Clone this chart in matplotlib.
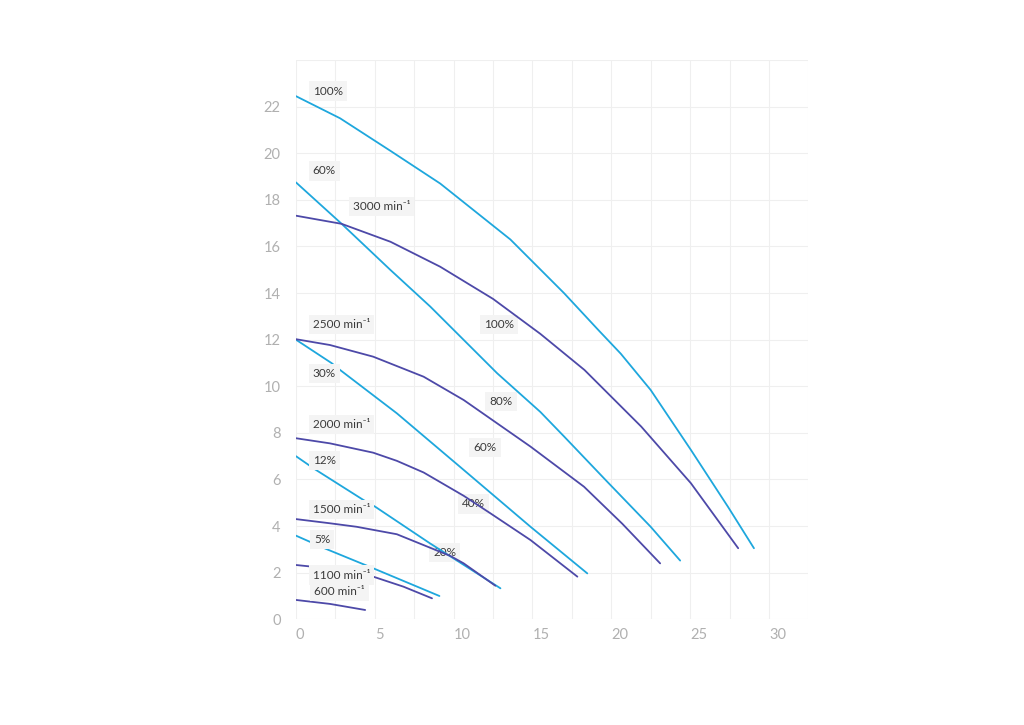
import matplotlib
matplotlib.use("Agg")
import matplotlib.pyplot as plt
from matplotlib.ticker import MultipleLocator

plt.rcParams['font.family'] = ['Lato', 'DejaVu Sans']

# ---- speed curves (dark) ----
sp3000_x = [0, 2.9, 6.0, 9.15, 12.5, 15.5, 18.3, 21.9, 25.05, 28.05]
sp3000_y = [17.32, 16.97, 16.2, 15.13, 13.75, 12.25, 10.7, 8.27, 5.84, 3.05]
sp2500_x = [0, 2.16, 4.9, 8.1, 10.64, 14.88, 18.27, 20.7, 23.1]
sp2500_y = [12.02, 11.77, 11.27, 10.41, 9.41, 7.41, 5.69, 4.1, 2.4]
sp2000_x = [0, 2.16, 4.9, 6.4, 8.1, 10.64, 12.33, 14.88, 17.85]
sp2000_y = [7.77, 7.55, 7.15, 6.8, 6.3, 5.3, 4.55, 3.4, 1.83]
sp1500_x = [0, 2.16, 3.85, 6.4, 9.79, 10.64, 12.65]
sp1500_y = [4.3, 4.12, 3.97, 3.65, 2.72, 2.4, 1.44]
sp1100_x = [0, 2.6, 4.9, 6.82, 8.63]
sp1100_y = [2.33, 2.15, 1.83, 1.4, 0.9]
sp600_x = [0, 2.16, 4.39]
sp600_y = [0.83, 0.66, 0.4]

# ---- percentage curves (light) ----
p100_x = [0, 2.8, 6.0, 9.15, 13.6, 17.0, 19.2, 20.6, 22.5, 25.05, 27.4, 29.05]
p100_y = [22.45, 21.5, 20.1, 18.7, 16.3, 14.0, 12.4, 11.4, 9.84, 7.27, 4.83, 3.05]
p60_x = [0, 2.9, 5.98, 8.52, 12.76, 15.5, 17.0, 19.75, 22.5, 24.37]
p60_y = [18.75, 16.97, 15.0, 13.42, 10.56, 8.9, 7.85, 5.9, 3.97, 2.52]
p30_x = [0, 2.27, 2.8, 6.4, 10.64, 14.88, 18.48]
p30_y = [12.0, 10.99, 10.7, 8.84, 6.41, 3.97, 1.97]
p12_x = [0, 1.2, 4.28, 5.03, 8.5, 12.97]
p12_y = [7.0, 6.44, 5.12, 4.83, 3.26, 1.33]
p5_x = [0, 1.91, 4.9, 9.1]
p5_y = [3.59, 3.02, 2.19, 1.0]

speed_curves = [(sp3000_x, sp3000_y), (sp2500_x, sp2500_y), (sp2000_x, sp2000_y),
                (sp1500_x, sp1500_y), (sp1100_x, sp1100_y), (sp600_x, sp600_y)]
pct_curves = [(p100_x, p100_y), (p60_x, p60_y), (p30_x, p30_y),
              (p12_x, p12_y), (p5_x, p5_y)]

# labels along the left (text, x, y)
left_labels = ["100%", "60%", "3000 min⁻¹", "2500 min⁻¹", "30%", "2000 min⁻¹",
               "12%", "1500 min⁻¹", "5%", "1100 min⁻¹", "600 min⁻¹"]
left_x = [1.06, 1.06, 3.6, 1.06, 1.06, 1.06, 1.06, 1.06, 1.15, 1.06, 1.15]
left_y = [22.67, 19.24, 17.71, 12.66, 10.56, 8.37, 6.81, 4.72, 3.43, 1.9, 1.21]
# labels in the middle
mid_labels = ["100%", "80%", "60%", "40%", "20%"]
mid_x = [12.89, 13.0, 12.0, 11.26, 9.43]
mid_y = [12.66, 9.34, 7.38, 4.95, 2.86]

x_ticks = [0, 5, 10, 15, 20, 25, 30]
y_ticks = [0, 2, 4, 6, 8, 10, 12, 14, 16, 18, 20, 22]

light = '#1ea7dd'
dark = '#4d49a8'
box = dict(boxstyle='square,pad=0.35', fc='#f4f4f4', ec='none')

fig = plt.figure(figsize=(10.24, 7.25), dpi=100)
ax = fig.add_axes([0.289, 0.1458, 0.5004, 0.7714])

for x, y in pct_curves:
    ax.plot(x, y, color=light, lw=1.3, zorder=3, solid_capstyle='round',
            solid_joinstyle='round')
for x, y in speed_curves:
    ax.plot(x, y, color=dark, lw=1.3, zorder=3, solid_capstyle='round',
            solid_joinstyle='round')

for t, x, y in zip(left_labels, left_x, left_y):
    ax.text(x, y, t, ha='left', va='center', fontsize=8.5, color='#3a3a3a',
            bbox=box, zorder=5)
for t, x, y in zip(mid_labels, mid_x, mid_y):
    ax.text(x, y, t, ha='center', va='center', fontsize=8.5, color='#3a3a3a',
            bbox=box, zorder=2)

ax.set_xlim(0, 32.5)
ax.set_ylim(0, 24)
ax.set_xticks(x_ticks)
ax.set_yticks(y_ticks)
ax.xaxis.set_minor_locator(MultipleLocator(2.5))
ax.yaxis.set_minor_locator(MultipleLocator(2))
ax.grid(which='both', color='#efefef', lw=0.8, zorder=0)
ax.set_axisbelow(True)
for s in ax.spines.values():
    s.set_visible(False)
ax.tick_params(which='both', length=0)
ax.tick_params(axis='x', labelsize=10.5, labelcolor='#b0b0b0', pad=6)
ax.tick_params(axis='y', labelsize=10.5, labelcolor='#b0b0b0', pad=11)
for lab in ax.get_xticklabels():
    lab.set_horizontalalignment('left')

fig.savefig('out.png', dpi=100, facecolor='white')
